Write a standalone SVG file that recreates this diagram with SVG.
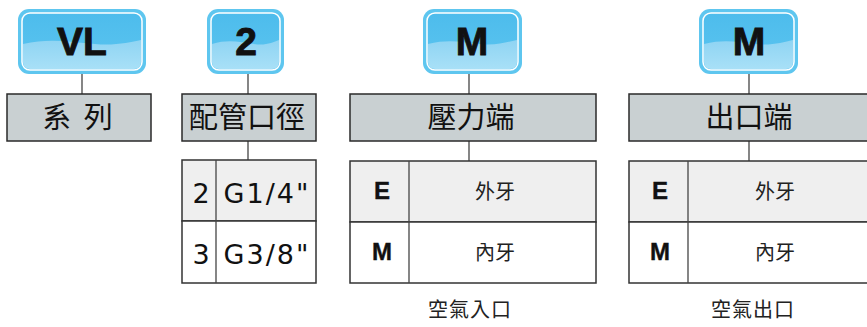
<svg xmlns="http://www.w3.org/2000/svg" width="867" height="327" viewBox="0 0 867 327">
<defs>
<linearGradient id="bg" x1="0" y1="0" x2="0" y2="1">
<stop offset="0" stop-color="#4dbcec"/>
<stop offset="1" stop-color="#5cc5f0"/>
</linearGradient>
<linearGradient id="wv" x1="0" y1="0" x2="0" y2="1">
<stop offset="0" stop-color="#8fd4f3"/>
<stop offset="1" stop-color="#a8e0f7"/>
</linearGradient>
<style>
.outer{fill:#5ec6ef}
.inner{fill:url(#bg);stroke:#ffffff;stroke-width:1.5}
.wave{fill:url(#wv)}
.bt{font-family:"Liberation Sans",Arial,sans-serif;font-weight:bold;font-size:39px;fill:#111;stroke:#111;stroke-width:0.9;text-anchor:middle}
.hd{fill:#c9d0d2;stroke:#2a2a2a;stroke-width:1.5}
.ht{font-family:"Noto Sans CJK TC","Noto Sans CJK SC",sans-serif;font-size:29px;fill:#111;text-anchor:middle}
.c1{fill:#efefef;stroke:#333;stroke-width:1.5}
.c2{fill:#ffffff;stroke:#333;stroke-width:1.5}
.num{font-family:"DejaVu Sans",sans-serif;font-size:27px;fill:#111;text-anchor:middle}
.code{font-family:"Liberation Sans",Arial,sans-serif;font-weight:bold;font-size:24px;fill:#111;stroke:#111;stroke-width:0.4;text-anchor:middle}
.cj{font-family:"Noto Sans CJK TC","Noto Sans CJK SC",sans-serif;font-size:20px;fill:#222;text-anchor:middle}
.ln{stroke:#444;stroke-width:1.3;fill:none}
</style>
</defs>
<rect width="867" height="327" fill="#ffffff"/>

<g id="connectors">
<line class="ln" x1="82" y1="74" x2="82" y2="94"/>
<line class="ln" x1="248" y1="74" x2="248" y2="94"/>
<line class="ln" x1="248" y1="141" x2="248" y2="160"/>
<line class="ln" x1="469" y1="74" x2="469" y2="94"/>
<line class="ln" x1="469" y1="141" x2="469" y2="161"/>
<line class="ln" x1="749" y1="74" x2="749" y2="94"/>
<line class="ln" x1="749" y1="141" x2="749" y2="161"/>
</g>

<g id="badge-vl">
<rect class="outer" x="18" y="9" width="128" height="65" rx="11"/>
<rect class="inner" x="22" y="13" width="120" height="57" rx="8"/>
<path class="wave" d="M23,44 C50,38 70,42 95,44 C115,46 130,42 141,40 L141,62 Q141,69 134,69 L30,69 Q23,69 23,62 Z"/>
<text class="bt" x="82" y="55">VL</text>
</g>
<g id="badge-2">
<rect class="outer" x="207" y="9" width="77" height="65" rx="11"/>
<rect class="inner" x="211" y="13" width="69" height="57" rx="8"/>
<path class="wave" d="M212,44 C228,39 240,42 254,44 C266,46 273,42 279,40 L279,62 Q279,69 272,69 L219,69 Q212,69 212,62 Z"/>
<text class="bt" x="246" y="55">2</text>
</g>
<g id="badge-m1">
<rect class="outer" x="423" y="9" width="99" height="65" rx="11"/>
<rect class="inner" x="427" y="13" width="91" height="57" rx="8"/>
<path class="wave" d="M428,44 C448,39 462,42 479,44 C496,46 507,42 517,40 L517,62 Q517,69 510,69 L435,69 Q428,69 428,62 Z"/>
<text class="bt" x="472" y="55">M</text>
</g>
<g id="badge-m2">
<rect class="outer" x="699" y="9" width="99" height="65" rx="11"/>
<rect class="inner" x="703" y="13" width="91" height="57" rx="8"/>
<path class="wave" d="M704,44 C724,39 738,42 755,44 C772,46 783,42 793,40 L793,62 Q793,69 786,69 L711,69 Q704,69 704,62 Z"/>
<text class="bt" x="749" y="55">M</text>
</g>

<g id="head-series">
<rect class="hd" x="7" y="94" width="144" height="47"/>
<text class="ht" x="79" y="128" letter-spacing="3">系 列</text>
</g>
<g id="head-port">
<rect class="hd" x="182" y="94" width="134" height="47"/>
<text class="ht" x="247" y="128">配管口徑</text>
</g>
<g id="head-pressure">
<rect class="hd" x="350" y="94" width="246" height="47"/>
<text class="ht" x="471" y="128">壓力端</text>
</g>
<g id="head-outlet">
<rect class="hd" x="629" y="94" width="245" height="47"/>
<text class="ht" x="749" y="128">出口端</text>
</g>

<g id="table-port">
<rect class="c1" x="182" y="160" width="134" height="61"/>
<rect class="c2" x="182" y="221" width="134" height="62"/>
<line class="ln" x1="216" y1="160" x2="216" y2="283"/>
<text class="num" x="201" y="203">2</text>
<text class="num" x="267" y="203" letter-spacing="2">G1/4"</text>
<text class="num" x="201" y="264">3</text>
<text class="num" x="267" y="264" letter-spacing="2">G3/8"</text>
</g>

<g id="table-pressure">
<rect class="c1" x="350" y="161" width="246" height="61"/>
<rect class="c2" x="350" y="222" width="246" height="61"/>
<line class="ln" x1="409" y1="161" x2="409" y2="283"/>
<text class="code" x="382" y="199">E</text>
<text class="cj" x="495" y="199">外牙</text>
<text class="code" x="382" y="260">M</text>
<text class="cj" x="495" y="260">內牙</text>
<text class="cj" x="470" y="317" letter-spacing="1">空氣入口</text>
</g>

<g id="table-outlet">
<rect class="c1" x="629" y="161" width="245" height="61"/>
<rect class="c2" x="629" y="222" width="245" height="61"/>
<line class="ln" x1="688" y1="161" x2="688" y2="283"/>
<text class="code" x="660" y="199">E</text>
<text class="cj" x="775" y="199">外牙</text>
<text class="code" x="660" y="260">M</text>
<text class="cj" x="775" y="260">內牙</text>
<text class="cj" x="753" y="317" letter-spacing="1">空氣出口</text>
</g>
</svg>
